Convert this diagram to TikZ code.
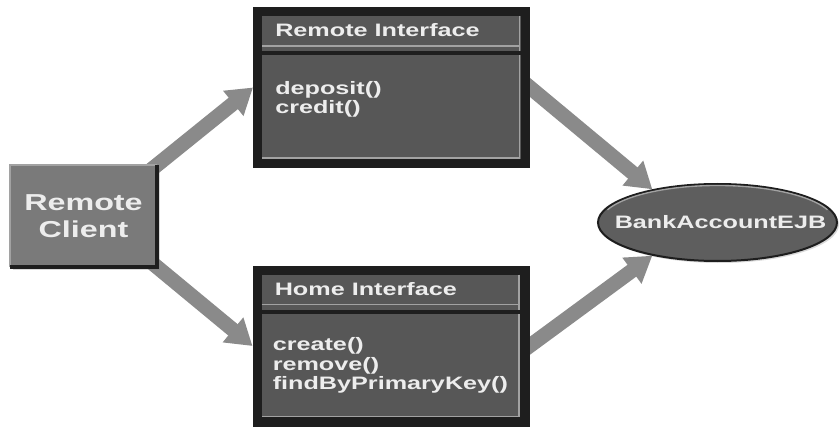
\documentclass[tikz,border=0pt]{standalone}
\usepackage{fontspec}
\newfontfamily\boxfont[FakeStretch=1.4]{Liberation Sans}
\usetikzlibrary{shapes,arrows.meta,backgrounds,calc,shadows}

\definecolor{facegray}{HTML}{575757}
\definecolor{framegray}{HTML}{1E1E1E}
\definecolor{bevelgray}{HTML}{A2A2A2}
\definecolor{clientgray}{HTML}{7A7A7A}
\definecolor{beangray}{HTML}{5E5E5E}
\definecolor{arrowgray}{HTML}{8A8A8A}
\definecolor{labelwhite}{HTML}{EDEDED}

\newcommand{\smallsize}{\fontsize{13.5pt}{14.6pt}\selectfont}
\newcommand{\bigsize}{\fontsize{17.3pt}{20.3pt}\selectfont}

\begin{document}
\begin{tikzpicture}[x=0.75pt,y=-0.75pt,font=\boxfont\bfseries\smallsize,text=labelwhite]
\tikzstyle{iface}=[rectangle,draw=framegray,fill=facegray,line width=7pt,minimum width=200.75pt,minimum height=113.75pt,drop shadow={shadow xshift=2pt,shadow yshift=-2pt,opacity=.3}]
\tikzstyle{clientbox}=[rectangle,fill=clientgray,outer sep=0pt,minimum width=110.25pt,minimum height=76.5pt,font=\boxfont\bfseries\bigsize,align=center,drop shadow={shadow xshift=2pt,shadow yshift=-2pt,opacity=.3}]
\tikzstyle{bean}=[ellipse,draw=framegray,fill=beangray,line width=1.5pt,minimum width=179.25pt,minimum height=57.75pt,drop shadow={shadow xshift=1.5pt,shadow yshift=-1.5pt,opacity=.3}]
\tikzstyle{headtext}=[anchor=base west,inner sep=0pt]
\tikzstyle{methodtext}=[anchor=north west,align=left,inner sep=0pt]
\tikzstyle{flow}=[-{Triangle[length=19pt,width=23pt]},draw=arrowgray,fill=arrowgray,line width=11pt,shorten <=-12pt]
\useasboundingbox (0,0) rectangle (840,428);

\node[clientbox] (client) at (83.5,216) {Remote\\Client};
\node[iface] (remote) at (391.5,87.5) {};
\node[iface] (home) at (391,346) {};
\node[bean] (bank) at (717.5,222.5) {};

% bevels
\draw[bevelgray,line width=1.5pt] (client.south west) -- (client.north west) -- (client.north east);
\draw[framegray,line width=2.5pt] (client.north east) -- (client.south east) -- (client.south west);
\foreach \b in {remote,home}{
  \draw[bevelgray,line width=1.2pt] ($(\b.north east)+(-10.5,9)$) -- ($(\b.south east)+(-10.5,-10)$) -- ($(\b.south west)+(9,-10)$);
  \draw[bevelgray,line width=1.2pt] ($(\b.north west)+(9,39)$) -- ($(\b.north east)+(-10,39)$);
  \draw[framegray,line width=3pt] ($(\b.north west)+(5,46)$) -- ($(\b.north east)+(-5,46)$);
}
\draw[bevelgray,line width=1pt] ($(bank.center)+({117*cos(200)},{37*sin(200)})$) arc[start angle=200,end angle=340,x radius=117,y radius=37];

\node[headtext] (remotehead) at ($(remote.north west)+(22,30)$) {Remote Interface};
\node[methodtext] (remoteops) at ($(remote.north west)+(22,74)$) {deposit()\\credit()};
\node[headtext] (homehead) at ($(home.north west)+(22,30)$) {Home Interface};
\node[methodtext] (homeops) at ($(home.north west)+(20,72)$) {create()\\remove()\\findByPrimaryKey()};
\node (banklabel) at ($(bank.center)+(3,0)$) {BankAccountEJB};

\begin{pgfonlayer}{background}
\draw[flow] (client.north east) -- (remote.west);
\draw[flow] (client.south east) -- (home.west);
\draw[flow] (remote.east) -- (bank.153);
\draw[flow] (home.east) -- (bank.207);
\end{pgfonlayer}
\end{tikzpicture}
\end{document}
